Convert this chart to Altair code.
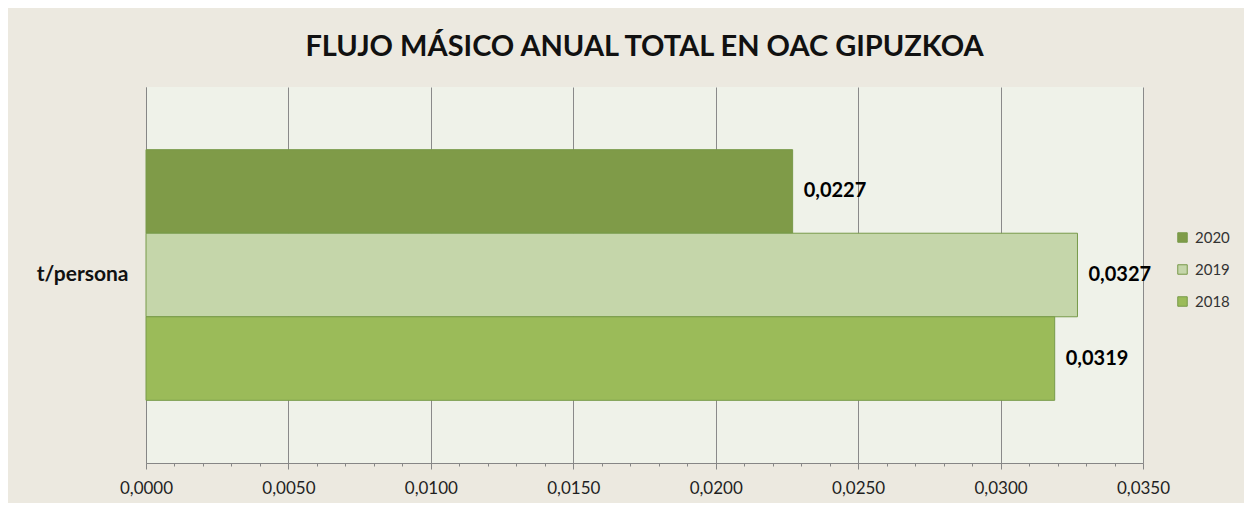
import altair as alt
import pandas as pd

categoria = ["t/persona", "t/persona", "t/persona"]
anios = ["2020", "2019", "2018"]
valores = [0.0227, 0.0327, 0.0319]
colores = ["#7F9B48", "#C5D6AA", "#9BBB59"]
ticks = [0.000, 0.001, 0.002, 0.003, 0.004, 0.005, 0.006, 0.007, 0.008, 0.009,
         0.010, 0.011, 0.012, 0.013, 0.014, 0.015, 0.016, 0.017, 0.018, 0.019,
         0.020, 0.021, 0.022, 0.023, 0.024, 0.025, 0.026, 0.027, 0.028, 0.029,
         0.030, 0.031, 0.032, 0.033, 0.034, 0.035]

df = pd.DataFrame({"cat": categoria, "year": anios, "value": valores})

FONT = "Lato"
major = "abs(round(datum.value*1000) % 5) == 0"

x = alt.X(
    "value:Q",
    scale=alt.Scale(domain=[0, 0.035], nice=False, zero=True),
    axis=alt.Axis(
        values=ticks, tickCount=40,
        title=None,
        labelExpr="abs(round(datum.value*1000) % 5) == 0 ? replace(format(datum.value, '.4f'), '.', ',') : ''",
        labelFont=FONT, labelFontSize=17, labelColor="#1F1F1F", labelPadding=11,
        labelOverlap=False, labelFlush=False,
        tickColor="#868686",
        tickSize={"condition": {"test": major, "value": 6}, "value": 3},
        domainColor="#868686",
        grid=True, gridColor="#8A8A8A",
        gridOpacity={"condition": {"test": major, "value": 1}, "value": 0},
    ),
)
y = alt.Y(
    "cat:N",
    scale=alt.Scale(paddingOuter=0.25, paddingInner=0),
    axis=alt.Axis(title=None, ticks=False, labelFont=FONT, labelFontSize=21,
                  labelFontWeight="bold", labelColor="#111111", labelPadding=18,
                  domainColor="#868686"),
)
yoff = alt.YOffset("year:N", sort=anios, scale=alt.Scale(paddingInner=0, paddingOuter=0))

bars = alt.Chart(df).mark_bar(stroke="#789A4A", strokeWidth=1).encode(
    x=x, y=y, yOffset=yoff,
    color=alt.Color("year:N", sort=anios,
                    scale=alt.Scale(domain=anios, range=colores),
                    legend=alt.Legend(title=None, orient="none", legendX=1029, legendY=143,
                                      symbolType="square", symbolSize=90,
                                      symbolStrokeColor="#789A4A", symbolStrokeWidth=1,
                                      labelFont=FONT, labelFontSize=15, labelColor="#333333",
                                      rowPadding=16, labelOffset=5)),
)

labels = alt.Chart(df).transform_calculate(
    lab="replace(format(datum.value, '.4f'), '.', ',')"
).mark_text(align="left", baseline="middle", dx=11, font=FONT, fontSize=20,
            fontWeight="bold", color="#000000").encode(
    x="value:Q", y="cat:N", yOffset=alt.YOffset("year:N", sort=anios), text="lab:N"
)

chart = (bars + labels).properties(
    width=997, height=376,
    title=alt.TitleParams("FLUJO MÁSICO ANUAL TOTAL EN OAC GIPUZKOA", font=FONT,
                          fontSize=29, fontWeight="bold", color="#111111",
                          anchor="middle", offset=2, baseline="alphabetic"),
    background="#ECE9E0",
    padding={"left": 138, "top": 79, "right": 101, "bottom": 40},
    autosize=alt.AutoSizeParams(type="none"),
).configure_view(fill="#EFF2E9", stroke=None, strokeWidth=0)

chart.save("out.html", embed_options={"renderer": "svg", "actions": False})
